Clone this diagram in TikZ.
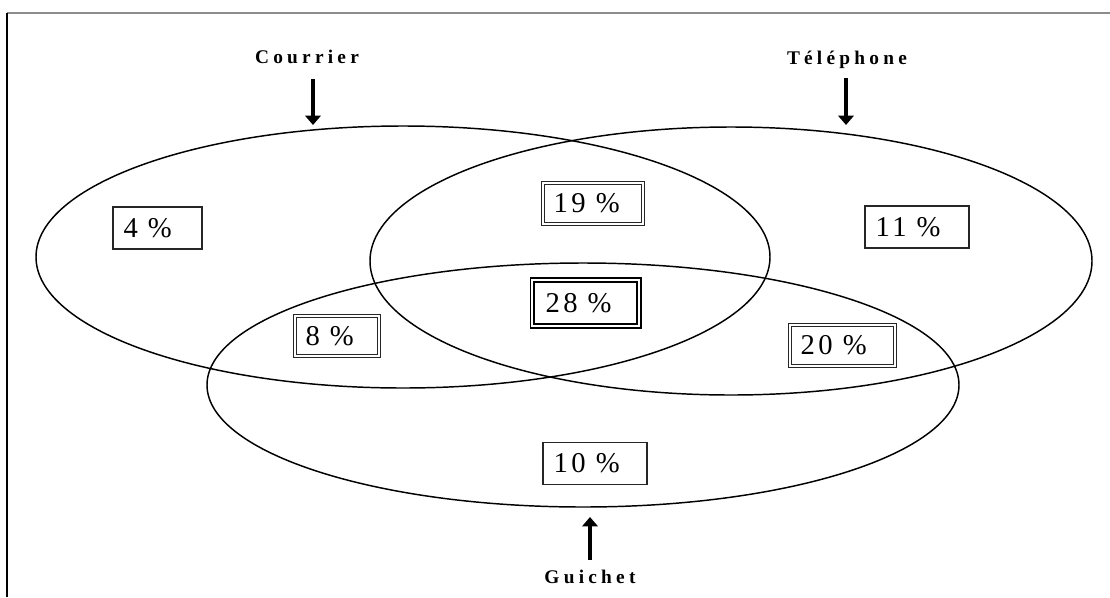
\documentclass[tikz,border=0pt]{standalone}
\usepackage{fontspec}
\setmainfont{Liberation Serif}
\usetikzlibrary{arrows.meta}

% font of the percentage boxes: spaced serif figures
\newcommand{\pcfont}{\fontsize{21.5}{24}\selectfont\addfontfeature{LetterSpace=12}}
% a value followed by a fixed gap and the percent sign
\newcommand{\pc}[1]{#1\hspace*{7.5pt}\%}

\tikzset{
  ring/.style={line width=1.1pt},
  frameline/.style={line width=1.2pt},
  pct/.style={inner xsep=8pt, inner ysep=0pt, align=left, execute at begin node=\pcfont},
  boxsingle/.style={pct, draw=black!85, line width=0.8pt},
  boxdouble/.style={pct, draw=black!85, line width=0.8pt, double, double distance=1.6pt},
  boxheavy/.style={pct, draw=black, line width=1.2pt, double, double distance=1.6pt},
  channel/.style={inner sep=0pt, anchor=base, font=\fontsize{14.5}{16}\selectfont\bfseries\addfontfeature{LetterSpace=22}},
  pointer/.style={line width=2.3pt, -{Triangle[width=11.5pt,length=7pt]}}
}

\begin{document}
\begin{tikzpicture}[x=0.75pt,y=-0.75pt]
\useasboundingbox (0,0) rectangle (1110,597);

% frame (top and left edges only)
\draw[frameline, black!45] (7,13) -- (1110,13);
\draw[frameline, black] (7,13) -- (7,597);

% the three sets
\draw[ring] (403,257) ellipse [x radius=367, y radius=131];
\draw[ring] (731,261) ellipse [x radius=361, y radius=134];
\draw[ring] (583,385) ellipse [x radius=376, y radius=122];

% percentages (text width = box width - 16pt)
\node[boxsingle, text width=50.75pt, minimum height=31.5pt] (p4)  at (157.5,228)   {\pc{4}};
\node[boxdouble, text width=59pt,    minimum height=30.5pt] (p19) at (593,203.3)   {\pc{19}};
\node[boxsingle, text width=62pt,    minimum height=31.5pt] (p11) at (917,227)     {\pc{11}};
\node[boxheavy,  text width=64pt,    minimum height=34.5pt] (p28) at (585.5,303)   {\hspace*{2pt}\pc{28}};
\node[boxdouble, text width=47pt,    minimum height=30pt]   (p8)  at (337,336)     {\pc{8}};
\node[boxdouble, text width=62.75pt, minimum height=31pt]   (p20) at (842.5,345.5) {\pc{20}};
\node[boxsingle, text width=62pt,    minimum height=31pt]   (p10) at (595,463.5)   {\pc{10}};

% channel labels
\node[channel] (lcour) at (307,63) {Courrier};
\node[channel] (ltel)  at (847,64) {Téléphone};
\node[channel] (lgui)  at (590,583) {Guichet};

% arrow targets on the ellipses
\coordinate (tcour) at (313,125);
\coordinate (ttel)  at (846,125);
\coordinate (tgui)  at (590,517);

\draw[pointer, shorten <=12pt] (lcour.base -| tcour) -- (tcour);
\draw[pointer, shorten <=10.5pt] (ltel.base -| ttel) -- (ttel);
\draw[pointer, shorten <=7pt] (lgui.north -| tgui) -- (tgui);
\end{tikzpicture}
\end{document}
